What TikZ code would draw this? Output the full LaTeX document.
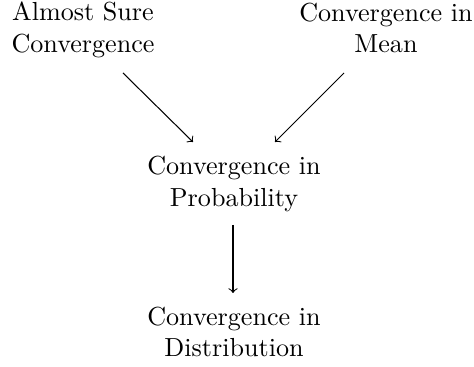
\documentclass[tikz,border=0pt]{standalone}
\begin{document}
\begin{tikzpicture}[x=0.383pt,y=-0.383pt,
  lbl/.style={align=center, inner sep=0pt},
  arr/.style={->}]
\useasboundingbox (0,0) rectangle (474,367);
\node[lbl] (A) at (83,30) {Almost Sure\\Convergence};
\node[lbl] (B) at (386,28) {Convergence in\\Mean};
\node[lbl] (P) at (234,184) {Convergence in\\Probability};
\node[lbl] (D) at (234,332) {Convergence in\\Distribution};
\coordinate (a1) at (123,73);
\coordinate (pa) at (193,142);
\coordinate (b1) at (344,73);
\coordinate (pb) at (275,142);
\coordinate (p2) at (233,225);
\coordinate (d1) at (233,293);
\draw[arr] (a1) -- (pa);
\draw[arr] (b1) -- (pb);
\draw[arr] (p2) -- (d1);
\end{tikzpicture}
\end{document}
